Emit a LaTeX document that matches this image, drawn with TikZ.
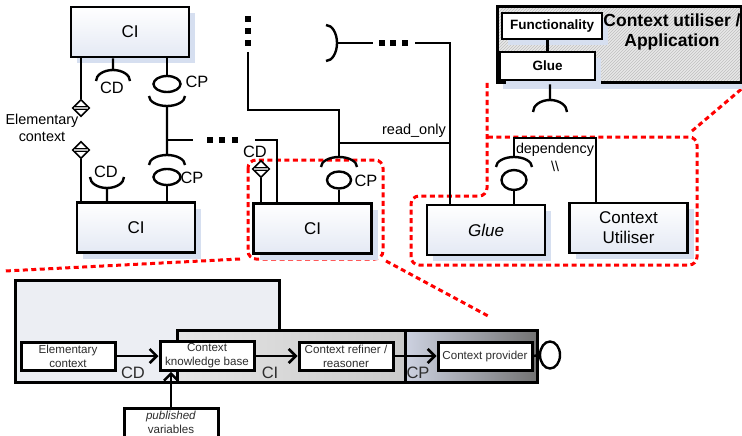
\documentclass[tikz,border=0pt]{standalone}
\usepackage{fontspec}
\setmainfont{Liberation Sans}
\usetikzlibrary{chains,positioning,shapes,shadows,patterns,arrows.meta}
\definecolor{boxblue}{RGB}{228,233,244}
\definecolor{shadowblue}{RGB}{214,223,240}
\definecolor{textgray}{RGB}{45,45,45}
\definecolor{outerfill}{RGB}{236,238,243}
\definecolor{cplight}{RGB}{205,210,225}
\tikzstyle{conn}=[line width=2.4pt]
\tikzstyle{bshadow}=[drop shadow={shadow xshift=6pt,shadow yshift=-6pt,fill=shadowblue,opacity=1}]
\tikzstyle{cibox}=[draw,line width=2.7pt,minimum width=118pt,minimum height=50pt,top color=white,bottom color=boxblue,bshadow,align=center,font=\fontsize{17}{20}\selectfont]
\tikzstyle{ball}=[ellipse,draw,line width=2.4pt,fill=white,inner sep=0pt,minimum width=27pt,minimum height=16pt]
\tikzstyle{elemdiam}=[diamond,draw,line width=1.6pt,fill=white,inner sep=0pt,minimum width=17pt,minimum height=17pt]
\tikzstyle{lbl}=[inner sep=1pt,font=\fontsize{16.4}{18}\selectfont]
\tikzstyle{sqdot}=[fill=black,inner sep=0pt,minimum size=5.5pt]
\tikzstyle{zoomline}=[draw=red,line width=3pt,dash pattern=on 5pt off 3.5pt]
\tikzstyle{appbox}=[draw,line width=3pt,minimum width=244pt,minimum height=76pt,bshadow,preaction={fill=gray!18},pattern=north east lines,pattern color=gray!50]
\tikzstyle{smallbold}=[draw,line width=2.6pt,fill=white,bshadow,inner sep=2pt,font=\bfseries\fontsize{13.5}{15}\selectfont]
\tikzstyle{flowbox}=[draw,line width=3pt,fill=white,minimum width=94pt,minimum height=28pt,inner sep=2pt,align=center,text=textgray,font=\fontsize{11.6}{14}\selectfont]
\tikzstyle{flowarrow}=[line width=2.6pt,-{Straight Barb[length=7pt,width=14pt]}]
\tikzstyle{region}=[draw,line width=3pt]
\tikzstyle{reglbl}=[inner sep=0pt,text=textgray,font=\fontsize{16.5}{18}\selectfont]

\begin{document}
\begin{tikzpicture}[x=1pt,y=-1pt]
\useasboundingbox (0,0) rectangle (742,436);
\clip (0,0) rectangle (742,436);

% red zoom outlines
\draw[zoomline,rounded corners=8pt] (248,160) rectangle (383,259);
\draw[zoomline,rounded corners=8pt] (487,83) -- (487,196) -- (411,196) -- (411,265) -- (697,265) -- (697,137) -- (487,137);
\draw[zoomline] (692,131) -- (745,86);
\draw[zoomline] (240,259) -- (5,271);
\draw[zoomline] (386,261) -- (490,317);

% component instances
\node[cibox] (ciA) at (130,32) {CI};
\node[cibox] (ciB) at (136,227.5) {CI};
\node[cibox] (ciC) at (312.5,228.5) {CI};
\node[cibox] (glue) at (486,230) {\itshape Glue};
\node[cibox] (util) at (628.5,228) {Context\\Utiliser};

% elementary context
\node[elemdiam] (dA) at (81,108) {};
\node[elemdiam] (dB) at (81,150) {};
\draw[line width=1pt,double=gray!55,double distance=2pt,shorten <=2.5pt,shorten >=2.5pt] (dA.west) -- (dA.east);
\draw[line width=1pt,double=gray!55,double distance=2pt,shorten <=2.5pt,shorten >=2.5pt] (dB.west) -- (dB.east);
\draw[conn] (ciA.south -| dA) -- (dA.north);
\draw[conn] (dB.south) -- (ciB.north -| dB);
\node[align=center,font=\fontsize{14.4}{17}\selectfont] (elemlbl) at (42,128) {Elementary\\context};

% CD of the upper CI
\coordinate (cdA) at (113,70);
\draw[conn] (ciA.south -| cdA) -- (cdA) arc[start angle=90,end angle=0,x radius=17pt,y radius=11pt]
  (cdA) arc[start angle=90,end angle=180,x radius=17pt,y radius=11pt];
\node[lbl] (cdAl) at (112,88) {CD};

% CP between the two CIs
\node[ball] (bA) at (167,84) {};
\draw[conn] (ciA.south -| bA) -- (bA.north);
\node[lbl] (cpAl) at (197,82) {CP};
\coordinate (cpS1) at (167,106);
\coordinate (cpJ) at (167,140);
\coordinate (cpS2) at (167,155);
\draw[conn] (cpS1) arc[start angle=270,end angle=360,x radius=18pt,y radius=10pt]
  (cpS1) arc[start angle=270,end angle=180,x radius=18pt,y radius=10pt];
\draw[conn] (cpS1) -- (cpS2) arc[start angle=90,end angle=0,x radius=18pt,y radius=10pt]
  (cpS2) arc[start angle=90,end angle=180,x radius=18pt,y radius=10pt];
\node[ball] (bB) at (167,177) {};
\draw[conn] (bB.south) -- (ciB.north -| bB);
\node[lbl] (cpBl) at (192,178) {CP};

% CD of the lower CI
\coordinate (cdB) at (107,188);
\draw[conn] (ciB.north -| cdB) -- (cdB) arc[start angle=270,end angle=360,x radius=17pt,y radius=11pt]
  (cdB) arc[start angle=270,end angle=180,x radius=17pt,y radius=11pt];
\node[lbl] (cdBl) at (106,172) {CD};

% link to the middle CI
\coordinate (cpJend) at (193,140);
\draw[conn] (cpJ) -- (cpJend);
\node[sqdot] (hd1) at (210,140) {};
\node[sqdot] (hd2) at (222,140) {};
\node[sqdot] (hd3) at (235,140) {};
\coordinate (ciCfeed) at (255,140);
\coordinate (ciCin) at (277,140);
\draw[conn] (ciCfeed) -- (ciCin) -- (ciCin |- ciC.north);

% middle CI
\node[elemdiam] (dC) at (261,169) {};
\draw[line width=1pt,double=gray!55,double distance=2pt,shorten <=2.5pt,shorten >=2.5pt] (dC.west) -- (dC.east);
\draw[conn] (dC.south) -- (ciC.north -| dC);
\node[lbl] (cdCl) at (255,152) {CD};
\coordinate (cpS3) at (339,157);
\draw[conn] (cpS3) arc[start angle=90,end angle=0,x radius=18pt,y radius=10pt]
  (cpS3) arc[start angle=90,end angle=180,x radius=18pt,y radius=10pt];
\node[ball,minimum width=24pt,minimum height=17pt] (bC) at (339,180) {};
\draw[conn] (bC.south) -- (ciC.north -| bC);
\node[lbl] (cpCl) at (366,181) {CP};

% bus from above
\node[sqdot] (vd1) at (248,19) {};
\node[sqdot] (vd2) at (248,31) {};
\node[sqdot] (vd3) at (248,43) {};
\coordinate (vbus) at (248,52);
\coordinate (vbend) at (248,110);
\draw[conn] (vbus) -- (vbend) -| (cpS3);
\coordinate (roJ) at (450,143);
\draw[conn] (cpS3 |- roJ) -- (roJ);
\node[font=\fontsize{14.5}{16}\selectfont] (rolbl) at (414,131) {read\_only};

% required interface at the top
\coordinate (sockT) at (337,43);
\draw[conn] (sockT) arc[start angle=0,end angle=90,x radius=11pt,y radius=18pt]
  (sockT) arc[start angle=0,end angle=-90,x radius=11pt,y radius=18pt];
\coordinate (tEnd) at (373,43);
\draw[conn] (sockT) -- (tEnd);
\node[sqdot] (hd4) at (382,43) {};
\node[sqdot] (hd5) at (393,43) {};
\node[sqdot] (hd6) at (405,43) {};
\coordinate (tStart) at (415,43);
\coordinate (tCorner) at (450,43);
\draw[conn] (tStart) -- (tCorner) -- (tCorner |- glue.north);

% application
\node[appbox] (app) at (619,45) {};
\node[smallbold,minimum width=100pt,minimum height=26pt] (func) at (552,26) {Functionality};
\node[smallbold,minimum width=95pt,minimum height=28pt] (glueS) at (547.5,66) {Glue};
\draw[conn] (func.south -| glueS.north) -- (glueS.north);
\node[align=center,font=\bfseries\fontsize{17.5}{20}\selectfont] (apptxt) at (672,32) {Context utiliser /\\Application};
\coordinate (sockU) at (550,100);
\draw[conn] (app.south -| sockU) -- (sockU) arc[start angle=90,end angle=0,x radius=17pt,y radius=12pt]
  (sockU) arc[start angle=90,end angle=180,x radius=17pt,y radius=12pt];

% glue dependency
\coordinate (sockG) at (514,157);
\draw[conn] (sockG) arc[start angle=90,end angle=0,x radius=18pt,y radius=10pt]
  (sockG) arc[start angle=90,end angle=180,x radius=18pt,y radius=10pt];
\node[ball,minimum width=25pt,minimum height=20pt] (bG) at (514,180) {};
\draw[conn] (bG.south) -- (glue.north -| bG);
\coordinate (depL) at (514,138);
\coordinate (depR) at (596,138);
\draw[conn] (sockG) -- (depL) -- (depR) -- (util.north -| depR);
\node[align=center,font=\fontsize{14.3}{18}\selectfont] (deplbl) at (555,157) {dependency\\\textbackslash\textbackslash};

% zoomed CI internals
\draw[region,fill=outerfill] (15,280) rectangle (279,382);
\draw[region,left color=gray!20,right color=gray!42] (177,330) rectangle (405,382);
\draw[region,left color=cplight,right color=black!55] (405,330) rectangle (537,382);
\node[reglbl] (cdlbl) at (133,373) {CD};
\node[reglbl] (cilbl) at (270,373) {CI};
\node[reglbl] (cplbl) at (418,373) {CP};
\begin{scope}[start chain=flow going right,node distance=42pt]
    \node[on chain=flow,flowbox] (elem) at (68,356) {Elementary\\context};
    \node[on chain=flow,flowbox] (ckb) {Context\\knowledge base};
    \node[on chain=flow,flowbox] (refiner) {Context refiner /\\reasoner};
    \node[on chain=flow,flowbox] (provider) {Context provider};
\end{scope}
\node[ball,minimum width=20pt,minimum height=27pt] (bP) at (550,355) {};
\draw[conn] (provider.east) -- (bP.west);
\draw[flowarrow] (elem.east) -- (ckb.west);
\draw[flowarrow] (ckb.east) -- (refiner.west);
\draw[flowarrow] (refiner.east) -- (provider.west);
\node[flowbox,minimum height=0pt,inner ysep=2.8pt,text depth=6pt,anchor=north] (pubvar) at (171,407) {\textit{published}\\variables};
\draw[flowarrow] (pubvar.north) -- (pubvar.north |- ckb.south);
\end{tikzpicture}
\end{document}
